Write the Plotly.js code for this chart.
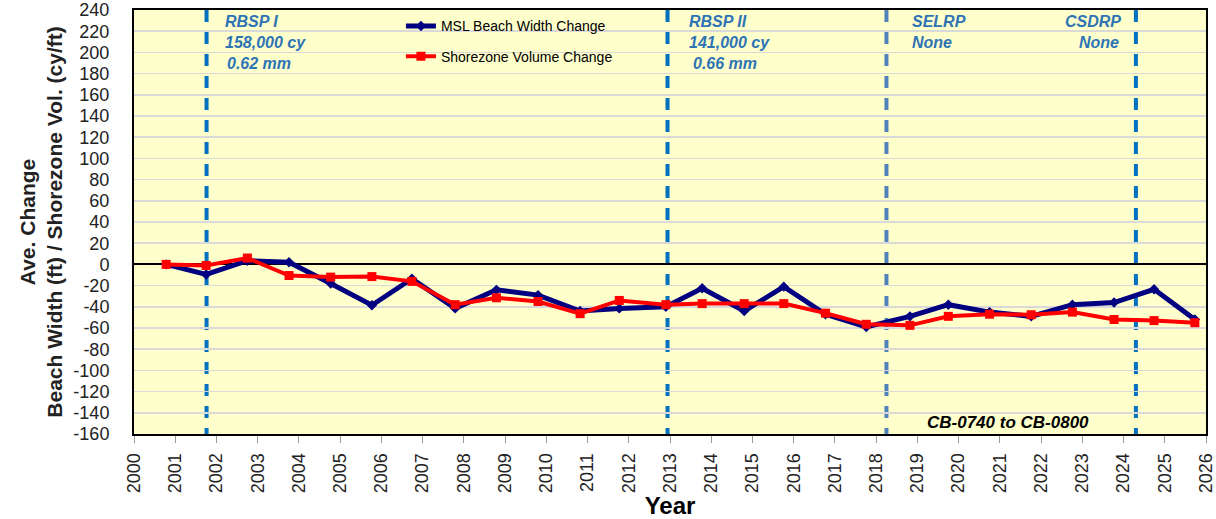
<!DOCTYPE html>
<html>
<head>
<meta charset="utf-8">
<script src="https://cdn.plot.ly/plotly-3.0.1.min.js"></script>
<style>html,body{margin:0;padding:0;background:#fff;}#chart{width:1216px;height:519px;}</style>
</head>
<body>
<div id="chart"></div>
<script>
// Survey dates (decimal years)
const surveyYears = [2000.78, 2001.75, 2002.75, 2003.76, 2004.77, 2005.77, 2006.74, 2007.79, 2008.79, 2009.8,
  2010.82, 2011.77, 2012.9, 2013.78, 2014.8, 2015.76, 2016.77, 2017.76, 2018.82, 2019.75,
  2020.75, 2021.76, 2022.76, 2023.77, 2024.74, 2025.73];
// MSL Beach Width Change (ft)
const beachWidth = [0, -9.5, 3.5, 2, -18, -38.5, -13.5, -41.5, -24, -29,
  -44, -41.5, -40, -22.5, -44, -21, -47, -59, -49, -38,
  -45, -49, -38, -36, -23.5, -52];
// Shorezone Volume Change (cy/ft)
const shorezoneVol = [0, -1, 6, -10.5, -12, -11.5, -16, -38, -31.5, -35,
  -46.5, -34, -38, -37, -37, -37, -46, -56.5, -57.5, -49,
  -47, -47.5, -45, -52, -53, -55];
// Project event lines
const eventYears = [2001.76, 2012.94, 2018.25, 2024.3];
const eventColors = ["#0070C0", "#0070C0", "#4F81BD", "#0070C0"];
// Project annotations
const annoTexts = ["RBSP I", "158,000 cy", "0.62 mm", "RBSP II", "141,000 cy", "0.66 mm", "SELRP", "None", "CSDRP", "None"];
const annoX = [2002.16, 2002.16, 2002.21, 2013.42, 2013.42, 2013.5, 2018.82, 2018.82, 2023.98, 2023.94];
const annoY = [229, 209, 189.5, 229, 209, 189.5, 229, 209, 229, 209];
const annoAlign = ["left", "left", "left", "left", "left", "left", "left", "left", "right", "right"];
const xTicks = [2000, 2001, 2002, 2003, 2004, 2005, 2006, 2007, 2008, 2009, 2010, 2011, 2012, 2013,
  2014, 2015, 2016, 2017, 2018, 2019, 2020, 2021, 2022, 2023, 2024, 2025, 2026];
const yTicks = [240, 220, 200, 180, 160, 140, 120, 100, 80, 60, 40, 20, 0, -20, -40, -60, -80, -100, -120, -140, -160];

const traces = [
  {x: surveyYears, y: beachWidth, name: "MSL Beach Width Change", type: "scatter", mode: "lines+markers",
   legendgroup: "a",
   line: {color: "#000080", width: 5}, marker: {symbol: "diamond", size: 8, color: "#000080"}},
  {x: surveyYears, y: shorezoneVol, name: "Shorezone Volume Change", type: "scatter", mode: "lines+markers",
   legendgroup: "b",
   line: {color: "#FF0000", width: 4}, marker: {symbol: "square", size: 9, color: "#FF0000"}}
];

const shapes = eventYears.map((ex, i) => ({
  type: "line", xref: "x", yref: "y", x0: ex, x1: ex, y0: 240, y1: -160, layer: "below",
  line: {color: eventColors[i], width: 4, dash: "12px,10px"}
}));

const annotations = annoTexts.map((t, i) => ({
  text: t, x: annoX[i], y: annoY[i], xref: "x", yref: "y", xanchor: annoAlign[i], yanchor: "middle",
  showarrow: false, font: {family: "Liberation Sans, Arial, sans-serif", size: 16, color: "#2E74B5", weight: "bold", style: "italic"}
}));
annotations.push({
  text: "CB-0740 to CB-0800", x: 2021.2, y: -149.6, xref: "x", yref: "y", xanchor: "center", yanchor: "middle",
  showarrow: false, font: {family: "Liberation Sans, Arial, sans-serif", size: 17, color: "#000", weight: "bold", style: "italic"}
});

const layout = {
  width: 1216, height: 519,
  margin: {l: 134, r: 10, t: 10, b: 85},
  paper_bgcolor: "#ffffff", plot_bgcolor: "#FFFFCC",
  showlegend: true,
  legend: {x: 0.249, y: 0.999, xanchor: "left", yanchor: "top", bgcolor: "rgba(0,0,0,0)",
    font: {family: "Liberation Sans, Arial, sans-serif", size: 14, color: "#000"},
    traceorder: "grouped", tracegroupgap: 9},
  xaxis: {
    range: [2000, 2026], tickmode: "array", tickvals: xTicks, ticktext: xTicks.map(String),
    tickangle: -90, ticks: "outside", ticklen: 7, tickcolor: "#999", tickwidth: 1,
    ticklabeloverflow: "allow", ticklabelstandoff: 3,
    tickfont: {family: "Liberation Sans, Arial, sans-serif", size: 18, color: "#222"},
    showgrid: false, zeroline: false, showline: true, linecolor: "#000", linewidth: 2, mirror: true,
    title: {text: "Year", font: {family: "Liberation Sans, Arial, sans-serif", size: 24, color: "#000", weight: "bold"}, standoff: 13}
  },
  yaxis: {
    range: [-160, 240], tickmode: "array", tickvals: yTicks, ticktext: yTicks.map(String),
    ticks: "", ticklabelstandoff: 19,
    tickfont: {family: "Liberation Sans, Arial, sans-serif", size: 18, color: "#222"},
    showgrid: true, gridcolor: "#D9D9D9", gridwidth: 1.5,
    zeroline: true, zerolinecolor: "#000", zerolinewidth: 2,
    showline: true, linecolor: "#000", linewidth: 2, mirror: true,
    title: {text: "Ave. Change<br>Beach Width (ft) / Shorezone Vol. (cy/ft)", font: {family: "Liberation Sans, Arial, sans-serif", size: 21, color: "#222", weight: "bold"}, standoff: 5}
  },
  shapes: shapes,
  annotations: annotations
};

Plotly.newPlot("chart", traces, layout, {displayModeBar: false, staticPlot: true});
</script>
</body>
</html>
